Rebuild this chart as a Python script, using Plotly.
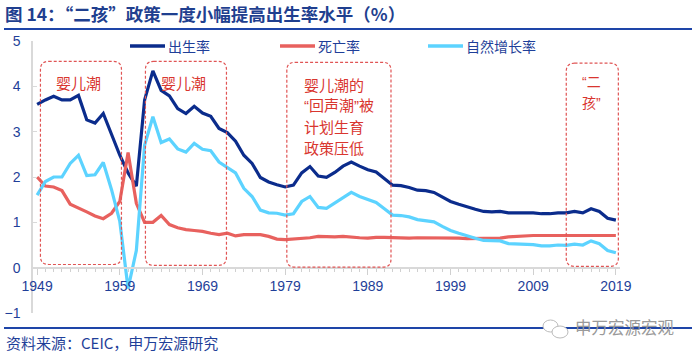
import plotly.graph_objects as go

years = list(range(1949, 2020))
birth_rate = [3.60,3.70,3.78,3.70,3.70,3.80,3.26,3.19,3.40,2.92,
              2.48,2.09,1.80,3.70,4.34,3.91,3.79,3.51,3.40,3.56,
              3.41,3.34,3.07,2.98,2.79,2.48,2.30,1.99,1.89,1.83,
              1.78,1.82,2.09,2.23,2.02,1.99,2.10,2.24,2.33,2.24,
              2.16,2.11,1.97,1.82,1.81,1.77,1.71,1.70,1.66,1.56,
              1.46,1.40,1.34,1.29,1.24,1.23,1.24,1.21,1.21,1.21,
              1.21,1.19,1.19,1.21,1.21,1.24,1.21,1.30,1.24,1.09,
              1.05]
death_rate = [2.00,1.80,1.78,1.70,1.40,1.32,1.23,1.14,1.08,1.20,
              1.46,2.54,1.42,1.00,1.00,1.15,0.95,0.88,0.84,0.82,
              0.80,0.76,0.73,0.76,0.70,0.73,0.73,0.73,0.69,0.63,
              0.62,0.63,0.64,0.66,0.69,0.68,0.68,0.69,0.67,0.66,
              0.65,0.67,0.67,0.66,0.66,0.65,0.66,0.66,0.65,0.65,
              0.65,0.65,0.64,0.64,0.64,0.64,0.65,0.68,0.69,0.71,
              0.71,0.71,0.71,0.72,0.72,0.72,0.71,0.71,0.71,0.71,
              0.71]
growth_rate = [1.60,1.90,2.00,2.00,2.30,2.48,2.03,2.05,2.32,1.72,
               1.02,-0.46,0.38,2.70,3.33,2.76,2.84,2.62,2.55,2.74,
               2.61,2.58,2.33,2.22,2.09,1.75,1.57,1.27,1.21,1.20,
               1.16,1.19,1.46,1.57,1.33,1.31,1.43,1.56,1.66,1.57,
               1.50,1.44,1.30,1.16,1.15,1.12,1.06,1.04,1.01,0.91,
               0.82,0.76,0.70,0.65,0.60,0.59,0.59,0.53,0.52,0.51,
               0.51,0.48,0.48,0.50,0.49,0.52,0.50,0.59,0.53,0.38,
               0.33]
series_names = ["出生率", "死亡率", "自然增长率"]
x_ticks = [1949, 1959, 1969, 1979, 1989, 1999, 2009, 2019]
y_ticks = [-1, 0, 1, 2, 3, 4, 5]

title_text = "图 14：“二孩”政策一度小幅提高出生率水平（%）"
source_text = "资料来源：CEIC，申万宏源研究"
watermark_text = "申万宏源宏观"

NAVY = "#0B2C8C"
RED = "#E8615E"
LIGHT = "#5CD3FF"
TXT = "#1F3F99"
BOXRED = "#E05555"
ANNRED = "#D9362F"
CJK = "Noto Sans CJK SC"
MIX = "Liberation Sans, Noto Sans CJK SC"

W, H = 700, 358
ML, MR, MT, MB = 33, 80, 41, 45
PW, PH = W - ML - MR, H - MT - MB


def px_x(px):
    return (px - ML) / PW


def px_y(py):
    return (H - MB - py) / PH


fig = go.Figure()
colors = [NAVY, RED, LIGHT]
for name, vals, c in zip(series_names, [birth_rate, death_rate, growth_rate], colors):
    fig.add_trace(go.Scatter(x=years, y=vals, mode="lines", name=name,
                             line=dict(color=c, width=3.2), showlegend=False))


def rounded_rect(x0, x1, y0, y1, rx=1.0, ry=0.18):
    return (f"M {x0+rx},{y1} L {x1-rx},{y1} Q {x1},{y1} {x1},{y1-ry} "
            f"L {x1},{y0+ry} Q {x1},{y0} {x1-rx},{y0} L {x0+rx},{y0} "
            f"Q {x0},{y0} {x0},{y0+ry} L {x0},{y1-ry} Q {x0},{y1} {x0+rx},{y1} Z")


boxes = [(1949.4, 1959.2, 0.07, 4.55),
         (1962.1, 1971.9, 0.05, 4.55),
         (1979.2, 1991.8, 0.01, 4.53),
         (2013.0, 2019.3, 0.03, 4.51)]
shapes = []
for b in boxes:
    shapes.append(dict(type="path", xref="x", yref="y", path=rounded_rect(*b),
                       line=dict(color=BOXRED, width=1.2, dash="3px,2px"),
                       layer="above"))

# title underline and bottom rule
shapes.append(dict(type="line", xref="paper", yref="paper",
                   x0=px_x(4), x1=px_x(692), y0=px_y(29), y1=px_y(29),
                   line=dict(color="#1E45A8", width=2)))
shapes.append(dict(type="line", xref="paper", yref="paper",
                   x0=px_x(4), x1=px_x(692), y0=px_y(328), y1=px_y(328),
                   line=dict(color="#1E45A8", width=2)))
# watermark icon
shapes.append(dict(type="circle", xref="paper", yref="paper",
                   x0=px_x(543), x1=px_x(558), y0=px_y(320), y1=px_y(332),
                   line=dict(color="#BBBBBB", width=1), fillcolor="white"))
shapes.append(dict(type="circle", xref="paper", yref="paper",
                   x0=px_x(552), x1=px_x(568), y0=px_y(326), y1=px_y(338),
                   line=dict(color="#BBBBBB", width=1), fillcolor="white"))

annotations = []


def add_text(text, xpx, ypx, size=15, color=ANNRED, anchor="center", bold=False, family=CJK):
    annotations.append(dict(text=f"<b>{text}</b>" if bold else text,
                            xref="paper", yref="paper",
                            x=px_x(xpx), y=px_y(ypx), xanchor=anchor, yanchor="middle",
                            showarrow=False, font=dict(size=size, color=color, family=family)))


# manual legend
legend_pos = [(130, 165), (280, 315), (428, 463)]
for name, c, (lx0, lx1) in zip(series_names, colors, legend_pos):
    shapes.append(dict(type="line", xref="paper", yref="paper",
                       x0=px_x(lx0), x1=px_x(lx1), y0=px_y(46), y1=px_y(46),
                       line=dict(color=c, width=3.5)))
    add_text(name, lx1 + 1, 46, size=14, color=TXT, anchor="left")

add_text("婴儿潮", 78, 82)
add_text("婴儿潮", 183, 82)
add_text("婴儿潮的", 302, 84, anchor="left")
add_text("“回声潮”被", 302, 105, anchor="left", family=MIX)
add_text("计划生育", 302, 126, anchor="left")
add_text("政策压低", 302, 147, anchor="left")
add_text("“二", 580, 82, size=14, anchor="left", family=MIX)
add_text("孩”", 580, 103, size=14, anchor="left", family=MIX)

add_text(title_text, 3, 14, size=17.5, color="#1F3F8F", anchor="left", bold=True)
add_text(source_text, 4, 342, size=15, color=TXT, anchor="left")
add_text(watermark_text, 573, 327, size=16.5, color="#9A9A9A", anchor="left")

fig.update_layout(
    width=W, height=H,
    margin=dict(l=ML, r=MR, t=MT, b=MB, pad=0, autoexpand=False),
    paper_bgcolor="white", plot_bgcolor="white",
    font=dict(family="Liberation Sans, Arial", color=TXT, size=14),
    showlegend=False,
    shapes=shapes,
    annotations=annotations,
    xaxis=dict(range=[1948.5, 2019.5], tickvals=x_ticks, ticktext=[str(v) for v in x_ticks],
               anchor="free", position=1/6, showgrid=False, zeroline=False,
               showline=True, linecolor="#D9D9D9", linewidth=2,
               ticks="outside", ticklen=6, tickcolor="#D0D0D0", tickwidth=1,
               minor=dict(dtick=1, tick0=1949, ticks="outside", ticklen=3,
                          tickcolor="#D0D0D0", showgrid=False),
               tickfont=dict(size=14, color=TXT, family="Liberation Sans, Arial")),
    yaxis=dict(range=[-1, 5], tickvals=y_ticks, showgrid=False, zeroline=False,
               showline=True, linecolor="#D9D9D9", linewidth=1.5,
               ticks="inside", ticklen=4, tickcolor="#D9D9D9",
               ticklabelstandoff=8,
               tickfont=dict(size=14, color=TXT, family="Liberation Sans, Arial")),
)

fig.write_html("out.html", config={"displayModeBar": False},
               post_script="document.body.style.margin='0';document.body.style.overflow='hidden';")
